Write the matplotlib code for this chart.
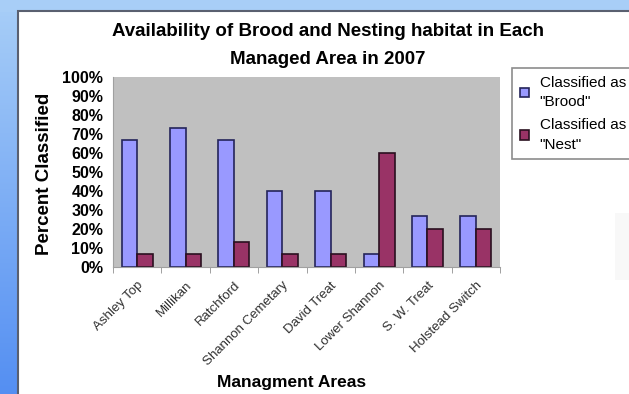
import numpy as np
import matplotlib
matplotlib.use("Agg")
from matplotlib import pyplot as plt
from matplotlib.patches import Rectangle

plt.rcParams['font.family'] = ['Liberation Sans', 'DejaVu Sans']

areas = ['Ashley Top', 'Millikan', 'Ratchford', 'Shannon Cemetary',
         'David Treat', 'Lower Shannon', 'S. W. Treat', 'Holstead Switch']
brood = [66.7, 73.3, 66.7, 40.0, 40.0, 6.7, 26.7, 26.7]
nest = [6.7, 6.7, 13.3, 6.7, 6.7, 60.0, 20.0, 20.0]
yticks = [0, 10, 20, 30, 40, 50, 60, 70, 80, 90, 100]

W, H = 629, 394
fig = plt.figure(figsize=(W / 100, H / 100), dpi=100)

# slide background: light blue strip on top, blue gradient down the left side
bg = fig.add_axes([0, 0, 1, 1], zorder=-10)
bg.set_axis_off()
img = np.ones((H, W, 3))
top = np.array([0.66, 0.81, 0.97])
bottom = np.array([0.33, 0.56, 0.95])
for r in range(H):
    f = r / (H - 1)
    img[r, :, :] = top * (1 - f) + bottom * f
img[:12, :, :] = top
bg.imshow(img, aspect='auto', extent=[0, W, H, 0])
bg.set_xlim(0, W)
bg.set_ylim(H, 0)
bg.add_patch(Rectangle((18, 11), W, H, facecolor='white',
                       edgecolor='#5a6070', linewidth=1.5))
bg.add_patch(Rectangle((615, 213), 20, 67, facecolor='#f8f8f8',
                       edgecolor='none'))

ax = fig.add_axes([113 / W, 1 - 267 / H, 387 / W, 190 / H])
ax.set_facecolor('#c0c0c0')

x = np.arange(len(areas))
bw = 0.32
ax.bar(x - bw / 2, brood, bw, color='#9999ff', edgecolor='#24245a',
       linewidth=1.2, label='Classified as\n"Brood"')
ax.bar(x + bw / 2, nest, bw, color='#993366', edgecolor='#2a1020',
       linewidth=1.2, label='Classified as\n"Nest"')

ax.set_xlim(-0.5, len(areas) - 0.5)
ax.set_ylim(0, 100)
ax.set_yticks(yticks)
ax.set_yticklabels([f'{v}%' for v in yticks], fontweight='bold', fontsize=11.5)
ax.tick_params(axis='y', length=0, pad=7)

ax.set_xticks(x)
ax.set_xticklabels(areas, rotation=45, ha='right', rotation_mode='anchor',
                   fontsize=9.5, color='#303030')
ax.tick_params(axis='x', which='major', length=0, pad=9)
ax.set_xticks(np.arange(len(areas) + 1) - 0.5, minor=True)
ax.tick_params(axis='x', which='minor', length=4, color='#909090')

for s in ['top', 'right']:
    ax.spines[s].set_visible(False)
for s in ['left', 'bottom']:
    ax.spines[s].set_color('#a0a0a0')

fig.text(328 / W, 1 - 31 / H,
         'Availability of Brood and Nesting habitat in Each',
         ha='center', va='center', fontsize=13.5, fontweight='bold')
fig.text(328 / W, 1 - 60 / H, 'Managed Area in 2007',
         ha='center', va='center', fontsize=13.5, fontweight='bold')
fig.text(45 / W, 1 - 174 / H, 'Percent Classified', rotation=90,
         ha='center', va='center', fontsize=13.5, fontweight='bold')
fig.text(292 / W, 1 - 382 / H, 'Managment Areas',
         ha='center', va='center', fontsize=12.5, fontweight='bold')

leg = fig.legend(loc='upper left', bbox_to_anchor=(512 / W, 1 - 68 / H),
                 fontsize=11, frameon=True, fancybox=False,
                 edgecolor='#707070', handlelength=0.6, handleheight=0.6,
                 handletextpad=0.7, labelspacing=0.6, borderpad=0.5,
                 borderaxespad=0)
leg.get_frame().set_linewidth(1.2)
for t in leg.get_texts():
    t.set_linespacing(1.5)

fig.savefig('out.png', dpi=100)
